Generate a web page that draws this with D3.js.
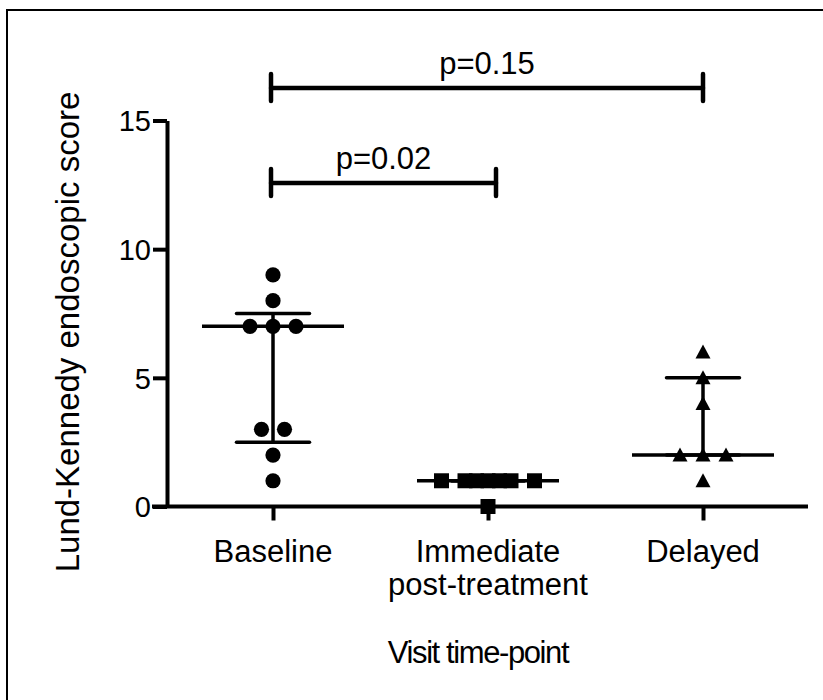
<!DOCTYPE html>
<html>
<head>
<meta charset="utf-8">
<script src="https://cdn.jsdelivr.net/npm/d3@7/dist/d3.min.js"></script>
<style>
  html, body { margin: 0; padding: 0; background: #fff; }
  svg { display: block; font-family: "Liberation Sans", Arial, sans-serif; }
</style>
</head>
<body>
<svg id="chart" width="823" height="700"></svg>
<script>
// ---- data ----
const categories = ["Baseline", "Immediate post-treatment", "Delayed"];
const categoryLabels = [["Baseline"], ["Immediate", "post-treatment"], ["Delayed"]];
const baselineScores = [9, 8, 7, 7, 7, 3, 3, 2, 1];
const immediateScores = [1, 1, 1, 1, 1, 1, 1, 0];
const delayedScores = [6, 5, 4, 2, 2, 2, 1];
const medians = [7, 1, 2];
const lowerQuartiles = [2.5, 1, 2];
const upperQuartiles = [7.5, 1, 5];
const yTicks = [0, 5, 10, 15];
const pLabels = ["p=0.02", "p=0.15"];
const yTitle = "Lund-Kennedy endoscopic score";
const xTitle = "Visit time-point";

const series = [baselineScores, immediateScores, delayedScores];
const shapes = ["circle", "square", "triangle"];

// ---- layout ----
const svg = d3.select("#chart");
svg.append("rect").attr("x", 7).attr("y", 10).attr("width", 900).attr("height", 800)
  .attr("fill", "none").attr("stroke", "#000").attr("stroke-width", 2);

const y = d3.scaleLinear().domain([0, 15]).range([506.5, 120.5]);
const x = d3.scalePoint().domain(categories).range([273, 703]);

// y axis
const yAxis = svg.append("g").attr("transform", "translate(167,0)")
  .call(d3.axisLeft(y).tickValues(yTicks).tickSize(14).tickSizeOuter(0).tickPadding(2));
yAxis.select(".domain").attr("stroke-width", 4).attr("stroke", "#000");
yAxis.selectAll(".tick line").attr("stroke-width", 4).attr("stroke", "#000");
yAxis.selectAll(".tick text").attr("font-size", 29).attr("fill", "#000")
  .attr("font-family", "Liberation Sans, Arial, sans-serif").attr("dy", "0.36em");

// x axis
svg.append("line").attr("x1", 152).attr("x2", 808).attr("y1", y(0)).attr("y2", y(0))
  .attr("stroke", "#000").attr("stroke-width", 4);
const xAxis = svg.append("g").attr("transform", `translate(0,${y(0)})`)
  .call(d3.axisBottom(x).tickSize(14).tickFormat(""));
xAxis.select(".domain").remove();
xAxis.selectAll(".tick line").attr("stroke-width", 4).attr("stroke", "#000");

// category labels
categories.forEach((c, i) => {
  const t = svg.append("text").attr("x", x(c)).attr("y", 562)
    .attr("text-anchor", "middle").attr("font-size", 31).attr("fill", "#000");
  categoryLabels[i].forEach((ln, j) => {
    t.append("tspan").attr("x", x(c)).attr("dy", j === 0 ? 0 : 33).text(ln);
  });
});

// titles
svg.append("text").attr("x", 478).attr("y", 663).attr("text-anchor", "middle")
  .attr("font-size", 31).attr("letter-spacing", -1.4).attr("fill", "#000").text(xTitle);
svg.append("text").attr("transform", "translate(79,332) rotate(-90)")
  .attr("text-anchor", "middle").attr("font-size", 33).attr("fill", "#000").text(yTitle);

// median & quartile bars
categories.forEach((c, i) => {
  const cx = x(c);
  svg.append("line").attr("x1", cx).attr("x2", cx)
    .attr("y1", y(lowerQuartiles[i])).attr("y2", y(upperQuartiles[i]))
    .attr("stroke", "#000").attr("stroke-width", 3.5);
  [lowerQuartiles[i], upperQuartiles[i]].forEach(q => {
    svg.append("line").attr("x1", cx - 36.5).attr("x2", cx + 36.5)
      .attr("y1", y(q)).attr("y2", y(q)).attr("stroke", "#000").attr("stroke-width", 3.5)
      .attr("stroke-linecap", "round");
  });
  svg.append("line").attr("x1", cx - 71).attr("x2", cx + 71)
    .attr("y1", y(medians[i])).attr("y2", y(medians[i]))
    .attr("stroke", "#000").attr("stroke-width", 3.5);
});

// scatter points: spread tied values horizontally
function offsets(n) {
  if (n <= 3) return d3.range(n).map(i => (i - (n - 1) / 2) * 23);
  const inner = n - 2;
  return [-46.5].concat(d3.range(inner).map(i => -23 + i * 46 / (inner - 1)), [46.5]);
}
const sym = {
  circle: d3.symbol().type(d3.symbolCircle).size(Math.PI * 7.6 * 7.6),
  square: d3.symbol().type(d3.symbolSquare).size(15 * 15),
};
series.forEach((vals, i) => {
  const cx = x(categories[i]);
  const groups = d3.group(vals, v => v);
  groups.forEach((arr, v) => {
    const offs = offsets(arr.length);
    offs.forEach(o => {
      const px = cx + o, py = y(v);
      if (shapes[i] === "triangle") {
        svg.append("path")
          .attr("d", `M${px},${py - 7.5}L${px + 7.5},${py + 6.5}L${px - 7.5},${py + 6.5}Z`)
          .attr("fill", "#000");
      } else {
        svg.append("path").attr("d", sym[shapes[i]]())
          .attr("transform", `translate(${px},${py})`).attr("fill", "#000");
      }
    });
  });
});

// significance brackets
const brackets = [
  { a: 0, b: 1, yPix: 183, label: pLabels[0], endShift: 8 },
  { a: 0, b: 2, yPix: 88, label: pLabels[1], endShift: 0 },
];
brackets.forEach(br => {
  const x1 = x(categories[br.a]) - 2, x2 = x(categories[br.b]) + br.endShift;
  const g = svg.append("g").attr("stroke", "#000").attr("stroke-width", 4.5).attr("stroke-linecap", "round");
  g.append("line").attr("x1", x1).attr("x2", x2).attr("y1", br.yPix).attr("y2", br.yPix);
  g.append("line").attr("x1", x1).attr("x2", x1).attr("y1", br.yPix - 14).attr("y2", br.yPix + 13);
  g.append("line").attr("x1", x2).attr("x2", x2).attr("y1", br.yPix - 14).attr("y2", br.yPix + 13);
  svg.append("text").attr("x", (x1 + x2) / 2).attr("y", br.yPix - 14)
    .attr("text-anchor", "middle").attr("font-size", 31).attr("fill", "#000").text(br.label);
});
</script>
</body>
</html>
